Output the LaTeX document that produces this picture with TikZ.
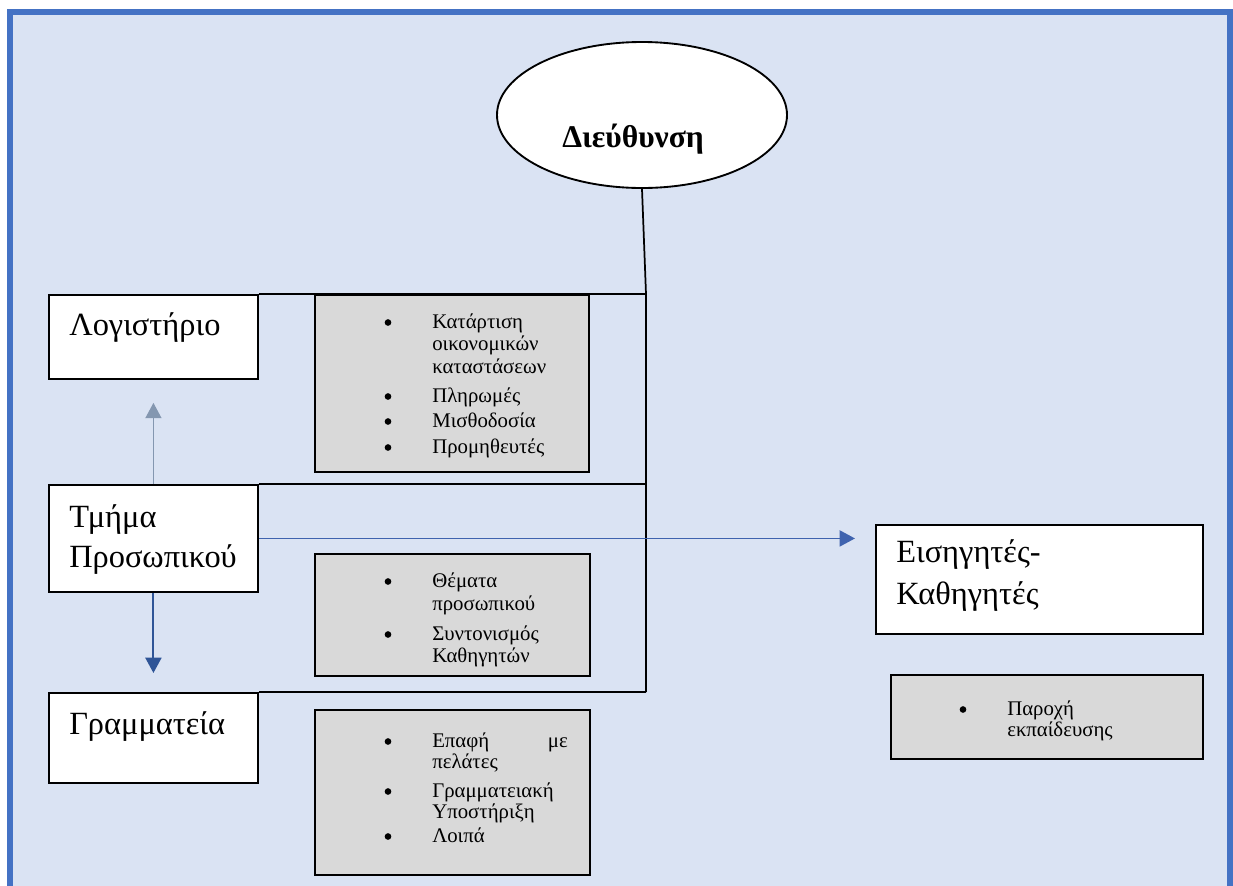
\documentclass[tikz,border=0pt]{standalone}
\usepackage{fontspec}
\setmainfont{Liberation Serif}
\usetikzlibrary{arrows.meta,shapes.geometric}
\definecolor{bgblue}{HTML}{DAE3F3}
\definecolor{frameblue}{HTML}{4472C4}
\definecolor{boxgray}{HTML}{D9D9D9}
\definecolor{upcol}{HTML}{8497B0}
\definecolor{downcol}{HTML}{2F5597}
\definecolor{rightcol}{HTML}{3F63AE}
\newcommand\bitem[4]{\node[bulletdot] (#1b) at (#2,#4-5.5) {};}
\begin{document}
\begin{tikzpicture}[x=0.75pt,y=-0.75pt,
  wbox/.style={draw=black, line width=1.4pt, fill=white, inner sep=0pt, anchor=north west},
  gbox/.style={draw=black, line width=1.4pt, fill=boxgray, inner sep=0pt, anchor=north west},
  big/.style={font=\fontsize{24.3}{30}\selectfont, anchor=base west, inner sep=0pt},
  small/.style={font=\fontsize{15.6}{18}\selectfont, anchor=base west, inner sep=0pt},
  bulletdot/.style={circle, fill=black, inner sep=0pt, minimum size=5pt},
  conn/.style={draw=black, line width=1.3pt},
  tip/.style={-{Triangle[width=12pt,length=11.5pt]}}
  ]
\useasboundingbox (0,0) rectangle (1233,886);
% background and frame
\fill[bgblue] (7,9) rectangle (1233,886);
\draw[frameblue, line width=4.5pt] (10,886) -- (10,12) -- (1230,12) -- (1230,886);

% director ellipse
\node[ellipse, draw=black, line width=1.4pt, fill=white, inner sep=0pt,
      minimum width=217.5pt, minimum height=109.5pt] (dir) at (642,115) {};
\node[font=\bfseries\fontsize{23.7}{28}\selectfont, anchor=base west, inner sep=0pt] (dirt) at (562,147) {Διεύθυνση};

% white boxes
\node[wbox, minimum width=156.75pt, minimum height=63pt] (logbox) at (48,294) {};
\node[wbox, minimum width=156.75pt, minimum height=80.25pt] (tmbox) at (48,484) {};
\node[wbox, minimum width=156.75pt, minimum height=67.5pt] (grbox) at (48,692) {};
\node[wbox, minimum width=245.25pt, minimum height=81.75pt] (eisbox) at (875,524) {};

% junctions
\coordinate (j1) at (646,294);
\coordinate (j2) at (646,484);
\coordinate (j3) at (646,692);

% connectors (drawn before grey boxes)
\draw[conn] (dir.south) -- (j1) -- (j3);
\draw[conn] (logbox.north east) -- (j1);
\draw[conn] (tmbox.north east) -- (j2);
\draw[conn] (grbox.north east) -- (j3);

% grey boxes
\node[gbox, minimum width=205.5pt, minimum height=132.75pt] (g1) at (314,294) {};
\node[gbox, minimum width=206.25pt, minimum height=91.5pt] (g2) at (314,553) {};
\node[gbox, minimum width=206.25pt, minimum height=123.75pt] (g3) at (314,709) {};
\node[gbox, minimum width=234pt, minimum height=63pt] (g4) at (890,674) {};

% arrows
\draw[upcol, line width=1.2pt, tip, shorten >=17.25pt] (tmbox.north) -- (logbox.south);
\draw[downcol, line width=1.5pt, tip, shorten >=14.25pt] (tmbox.south) -- (grbox.north);
\draw[rightcol, line width=1.4pt, tip, shorten >=15pt] (tmbox.east) -- (tmbox.east -| eisbox.west);

% big labels
\node[big] (tlog) at (69,335) {Λογιστήριο};
\node[big] (ttm1) at (69,527) {Τμήμα};
\node[big] (ttm2) at (69,567) {Προσωπικού};
\node[big] (tgr) at (69,734) {Γραμματεία};
\node[big] (tei1) at (896,562) {Εισηγητές-};
\node[big] (tei2) at (896,604) {Καθηγητές};

% list 1
\bitem{a1}{388}{}{328}
\node[small] (a1t) at (432,328) {Κατάρτιση};
\node[small] (a1u) at (432,350) {οικονομικών};
\node[small] (a1v) at (432,373) {καταστάσεων};
\bitem{a2}{388}{}{402}
\node[small] (a2t) at (432,402) {Πληρωμές};
\bitem{a3}{388}{}{427}
\node[small] (a3t) at (432,427) {Μισθοδοσία};
\bitem{a4}{388}{}{453}
\node[small] (a4t) at (432,453) {Προμηθευτές};

% list 2
\bitem{b1}{388}{}{587}
\node[small] (b1t) at (432,587) {Θέματα};
\node[small] (b1u) at (432,610) {προσωπικού};
\bitem{b2}{388}{}{640}
\node[small] (b2t) at (432,640) {Συντονισμός};
\node[small] (b2u) at (432,662) {Καθηγητών};

% list 3
\bitem{c1}{388}{}{747}
\node[small] (c1t) at (432,747) {Επαφή};
\node[small, anchor=base east] (c1m) at (568,747) {με};
\node[small] (c1u) at (432,768) {πελάτες};
\bitem{c2}{388}{}{797}
\node[small] (c2t) at (432,797) {Γραμματειακή};
\node[small] (c2u) at (432,818) {Υποστήριξη};
\bitem{c3}{388}{}{842}
\node[small] (c3t) at (432,842) {Λοιπά};

% list 4
\bitem{d1}{963}{}{715}
\node[small] (d1t) at (1007,715) {Παροχή};
\node[small] (d1u) at (1007,736) {εκπαίδευσης};
\end{tikzpicture}
\end{document}
